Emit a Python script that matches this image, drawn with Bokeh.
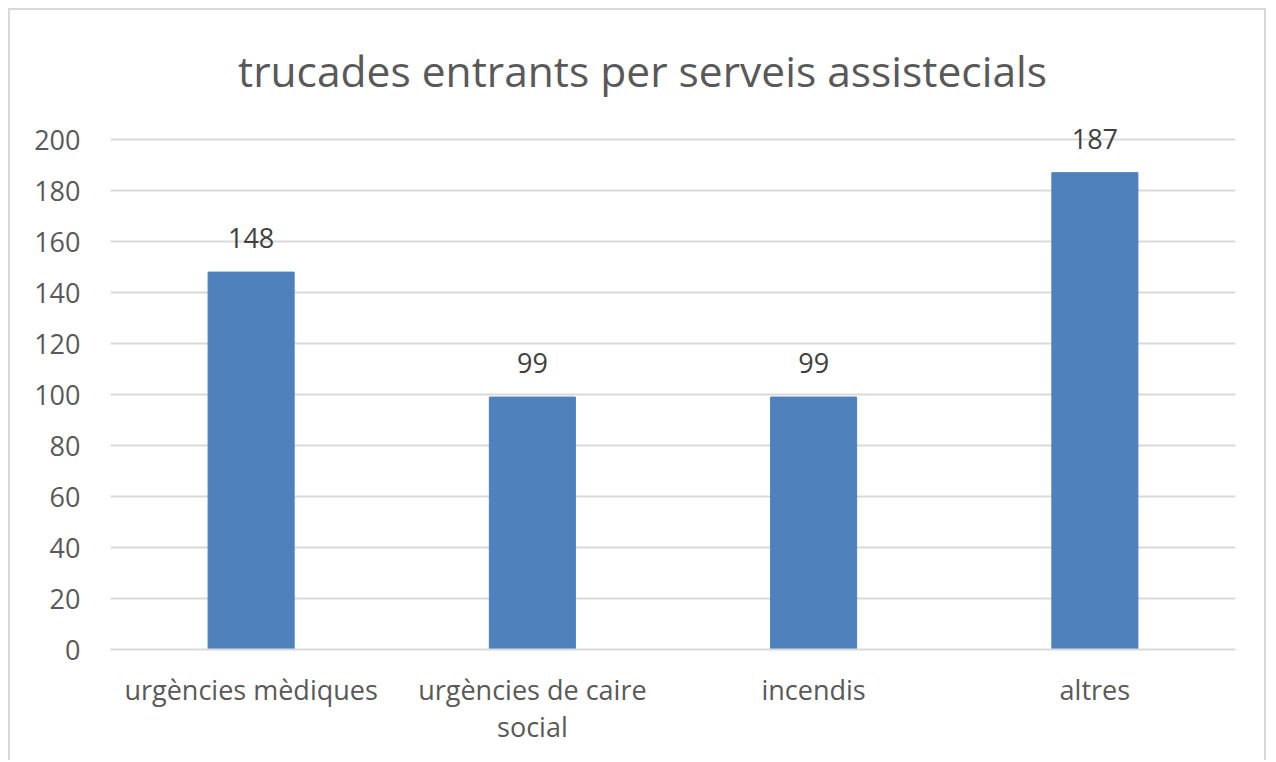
from bokeh.plotting import figure
from bokeh.models import ColumnDataSource, FactorRange, Range1d, FixedTicker, Label
from bokeh.embed import file_html
from bokeh.resources import INLINE
from bokeh.core.properties import value

title = "trucades entrants per serveis assistecials"
categories = ["urgències mèdiques", "urgències de caire\nsocial", "incendis", "altres"]
calls = [148, 99, 99, 187]
y_ticks = [0, 20, 40, 60, 80, 100, 120, 140, 160, 180, 200]

FONT = "Open Sans"

# frame: 599 px tall, 2.55 px per unit so that 0..200 spans 510 px; headroom above for title/labels
FRAME_H = 599
Y_END = FRAME_H / 2.55

src = ColumnDataSource(dict(cat=categories, val=calls, lab=[str(v) for v in calls]))

p = figure(x_range=FactorRange(*categories), y_range=Range1d(0, Y_END),
           width=1258, height=752, output_backend="svg", toolbar_location=None,
           min_border_left=100, min_border_right=33, min_border_top=40, min_border_bottom=113)
p.styles = {"border": "2px solid #d9d9d9", "border-bottom": "none", "margin": "8px 0 0 8px"}
p.outline_line_color = None

p.add_layout(Label(x=532, y=579, x_units="screen", y_units="screen", text=title,
                   text_align="center", text_baseline="alphabetic", text_font=FONT,
                   text_font_size="42.5px", text_color="#595959"))

p.vbar(x="cat", top="val", width=0.306, source=src, color="#4f81bd")
p.text(x="cat", y="val", text="lab", source=src, text_align="center", text_baseline="alphabetic",
       y_offset=-34, text_font=value(FONT), text_font_size="27px", text_color="#404040")

p.yaxis.ticker = FixedTicker(ticks=y_ticks)
p.yaxis.axis_line_color = None
p.yaxis.major_tick_line_color = None
p.yaxis.minor_tick_line_color = None
p.yaxis.major_label_standoff = 24
p.yaxis.major_label_text_font = FONT
p.yaxis.major_label_text_font_size = "27px"
p.yaxis.major_label_text_color = "#595959"

p.xaxis.axis_line_color = "#d9d9d9"
p.xaxis.axis_line_width = 2
p.xaxis.major_tick_line_color = None
p.xaxis.minor_tick_line_color = None
p.xaxis.major_label_standoff = 15
p.xaxis.major_label_text_font = FONT
p.xaxis.major_label_text_font_size = "27px"
p.xaxis.major_label_text_line_height = 1.0
p.xaxis.major_label_text_color = "#595959"

p.xgrid.grid_line_color = None
p.ygrid.grid_line_color = "#d9d9d9"
p.ygrid.grid_line_width = 2

open("out.html", "w").write(file_html(p, INLINE))
